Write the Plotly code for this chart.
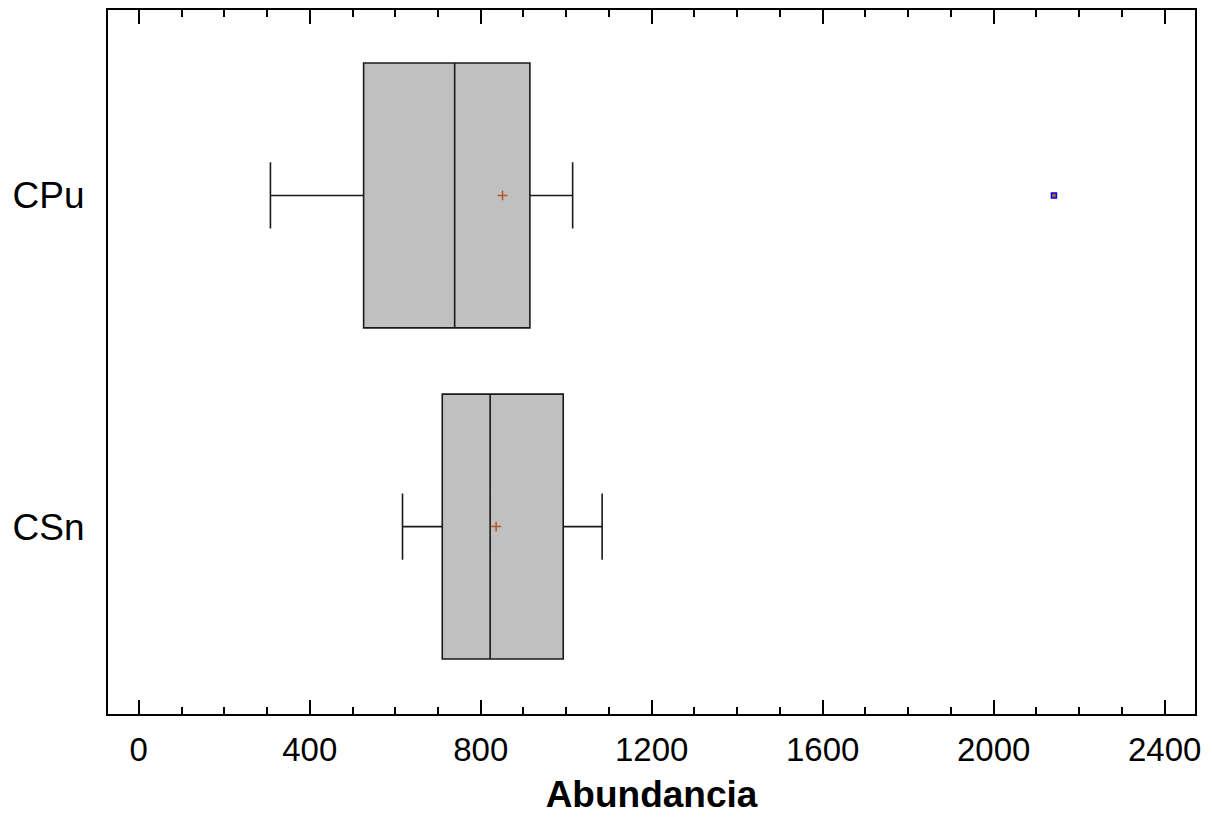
import plotly.graph_objects as go

categories = ["CPu", "CSn"]
q1 = [526, 710]
median = [739, 822]
q3 = [915, 993]
lower_fence = [308, 617]
upper_fence = [1015, 1084]
means = [851, 836]
outlier_x = [2141]
outlier_y = ["CPu"]

x_ticks = [0, 400, 800, 1200, 1600, 2000, 2400]

FONT = "Liberation Sans, Arial, sans-serif"

fig = go.Figure()
for i, cat in enumerate(categories):
    fig.add_trace(go.Box(
        y=[cat], q1=[q1[i]], median=[median[i]], q3=[q3[i]],
        lowerfence=[lower_fence[i]], upperfence=[upper_fence[i]],
        orientation="h", boxpoints=False,
        fillcolor="#C0C0C0", line=dict(color="#1a1a1a", width=1.6),
        width=0.8, whiskerwidth=0.25, showlegend=False,
    ))

fig.add_trace(go.Scatter(
    x=means, y=categories, mode="markers",
    marker=dict(symbol="cross-thin", size=7, color="#B4581E",
                line=dict(color="#B4581E", width=1.5)),
    showlegend=False,
))
fig.add_trace(go.Scatter(
    x=outlier_x, y=outlier_y, mode="markers",
    marker=dict(symbol="square", size=5, color="#C06030",
                line=dict(color="#0000EE", width=1.5)),
    showlegend=False,
))

fig.update_layout(
    width=1212, height=819,
    margin=dict(l=100, r=25, t=0, b=113),
    paper_bgcolor="white", plot_bgcolor="white",
    font=dict(family=FONT, color="black"),
    xaxis=dict(
        range=[-72, 2471], tickvals=x_ticks, ticks="inside", ticklen=14,
        tickwidth=1.5, tickcolor="black",
        minor=dict(dtick=100, tick0=0, ticks="inside", ticklen=7,
                   tickwidth=1.5, tickcolor="black", showgrid=False),
        showline=True, linecolor="black", linewidth=2, mirror="ticks",
        showgrid=False, zeroline=False,
        tickfont=dict(size=33, family=FONT), ticklabelstandoff=5,
        title=dict(text="<b>Abundancia</b>", font=dict(size=37, family=FONT),
                   standoff=15),
    ),
    yaxis=dict(
        type="category", categoryorder="array", categoryarray=["CSn", "CPu"],
        range=[-0.566, 1.56], showline=True, linecolor="black", linewidth=2,
        mirror=True, ticks="", showgrid=False, zeroline=False,
        tickfont=dict(size=37, family=FONT), ticklabelstandoff=14,
    ),
)

fig.write_html("out.html")
